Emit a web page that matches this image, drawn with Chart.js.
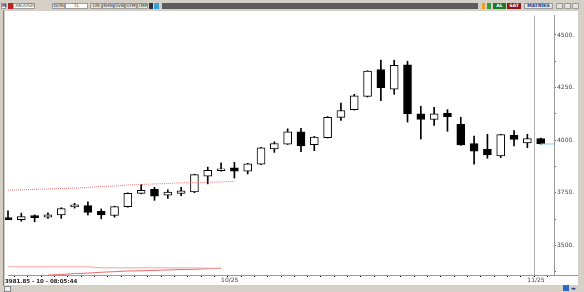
<!DOCTYPE html>
<html>
<head>
<meta charset="utf-8">
<script src="https://cdn.jsdelivr.net/npm/chart.js@4"></script>
<style>
  body { margin: 0; width: 584px; height: 292px; background: #d4d0c8; position: relative; overflow: hidden; font-family: "DejaVu Sans", sans-serif; }
  #wrap { position: absolute; left: 5px; top: 11px; width: 573px; height: 274px; background: #fff; }
  #edge { position: absolute; left: 3px; top: 10px; width: 1px; height: 276px; background: #808080; }
  #axisTail { position: absolute; left: 554px; top: 275px; width: 24px; height: 1px; background: #999; }
  .tb { position: absolute; top: 3px; height: 6px; font-size: 4.5px; line-height: 6px; text-align: center; color: #333; box-sizing: border-box; }
  .btn { background: #e4e2dc; border: 1px solid #9a9a9a; line-height: 4px; }
  .box { background: #fff; border: 1px solid #9a9a9a; line-height: 4px; }
  #status { position: absolute; left: 5px; top: 278px; width: 64px; height: 7px; background: #fff; font-size: 5.5px; font-weight: bold; line-height: 7px; color: #222; white-space: nowrap; }
  .ico { position: absolute; }
</style>
</head>
<body>
<div id="edge"></div>
<div id="wrap"><canvas id="chart" width="573" height="274"></canvas></div>
<div id="axisTail"></div>

<!-- toolbar -->
<div class="tb box" style="left:1px;width:5px;color:#1f3f8f;font-weight:bold;">M</div>
<div class="tb" style="left:8px;width:5px;background:#c02020;"></div>
<div class="tb box" style="left:13px;width:22px;text-align:left;padding-left:1px;">XAUUSD</div>
<div class="tb btn" style="left:52px;width:13px;">GÜN</div>
<div class="tb box" style="left:65px;width:23px;">TL</div>
<div class="tb btn" style="left:90px;width:12px;">LIN</div>
<div class="tb btn" style="left:102px;width:12px;">KHN</div>
<div class="tb btn" style="left:114px;width:11px;">SVB</div>
<div class="tb btn" style="left:125px;width:12px;">SYM</div>
<div class="tb btn" style="left:137px;width:11px;">TMP</div>
<div class="tb" style="left:149px;width:4px;background:#333;"></div>
<div class="tb" style="left:154px;width:5px;background:#3aa0e0;"></div>
<div class="tb" style="left:162px;width:316px;background:#5c5c5c;"></div>
<div class="tb" style="left:482px;width:3px;background:#e8a020;"></div>
<div class="tb" style="left:487px;width:4px;background:#3a9a3a;"></div>
<div class="tb" style="left:493px;width:13px;background:#1c7a24;color:#fff;font-weight:bold;">AL</div>
<div class="tb" style="left:507px;width:14px;background:#8a1a1a;color:#fff;font-weight:bold;">SAT</div>
<div class="tb btn" style="left:524px;width:29px;color:#1f3f8f;font-weight:bold;">MATRİKS</div>
<div class="tb btn" style="left:556px;width:7px;"></div>
<div class="tb btn" style="left:564px;width:7px;"></div>
<div class="tb btn" style="left:572px;width:7px;"></div>

<div id="status">3981.85 - 10 - 08:05:44</div>
<div class="ico" style="left:4px;top:286px;width:5px;height:4px;border:1px solid #888;background:#eee;"></div>
<div class="ico" style="left:563px;top:285px;width:6px;height:6px;background:#2a6ac8;"></div>
<div class="ico" style="left:571px;top:286px;font-size:5px;line-height:5px;color:#1f3f8f;">◂▸</div>

<script>
// ----- Daily candles, XAUUSD -----
const dates = [
  "2025-09-09","2025-09-10","2025-09-11","2025-09-12","2025-09-15","2025-09-16","2025-09-17","2025-09-18",
  "2025-09-19","2025-09-22","2025-09-23","2025-09-24","2025-09-25","2025-09-26","2025-09-29","2025-09-30",
  "2025-10-01","2025-10-02","2025-10-03","2025-10-06","2025-10-07","2025-10-08","2025-10-09","2025-10-10",
  "2025-10-13","2025-10-14","2025-10-15","2025-10-16","2025-10-17","2025-10-20","2025-10-21","2025-10-22",
  "2025-10-23","2025-10-24","2025-10-27","2025-10-28","2025-10-29","2025-10-30","2025-10-31","2025-11-03",
  "2025-11-04"
];
const opens  = [3632,3622,3642,3634,3644,3683,3689,3662,3642,3684,3747,3766,3739,3747,3754,3829,3855,3869,3853,3886,3958,3981,4039,3979,4012,4108,4145,4208,4336,4242,4358,4125,4098,4129,4075,3984,3956,3925,4023,3987,4008];
const highs  = [3664,3653,3645,3654,3679,3700,3707,3673,3686,3750,3789,3776,3764,3776,3838,3872,3892,3895,3890,3966,3992,4054,4056,4018,4112,4176,4218,4330,4380,4380,4375,4161,4156,4145,4109,4019,4028,4028,4045,4028,4010];
const lows   = [3622,3615,3612,3628,3628,3677,3645,3626,3634,3682,3745,3714,3723,3736,3750,3792,3853,3820,3839,3884,3942,3979,3945,3950,4010,4094,4143,4205,4188,4218,4086,4005,4070,4042,3975,3886,3914,3917,3972,3964,3981];
const closes = [3622,3637,3631,3645,3675,3692,3656,3644,3684,3747,3762,3734,3753,3759,3836,3857,3864,3853,3887,3964,3984,4039,3973,4015,4109,4141,4211,4328,4250,4356,4125,4098,4125,4111,3977,3948,3930,4026,4003,4008,3981.85];

// overlay lines
const dottedLine = [3762,3764,3766,3768,3770,3772,3775,3780,3782,3787,3789,3792,3794,3797,3798,3800,3802,3804];
const bandUpper  = [3398,3398,3398,3398,3398,3398,3398,3393,3393,3393,3393,3393,3393,3393,3393,3391,3391];
const bandLower  = [null,null,null,3359,3361,3366,3368,3372,3375,3378,3379,3381,3383,3385,3386,3389,3391];
const lastPrice = 3981.85;

// y axis
const yMin = 3359, yMax = 4592, yStep = 125, yLabelEvery = 250;

// one empty slot after the last candle
const labels = dates.concat([""]);
const lastIdx = dates.length - 1;

const bodies = opens.map((o, i) => [o, closes[i]]);
const wicks = lows.map((l, i) => [l, highs[i]]);
const bodyFill = opens.map((o, i) => closes[i] >= o ? "#ffffff" : "#000000");
const lastLine = labels.map((_, i) => i >= lastIdx ? lastPrice : null);

function monthLabel(i) {
  if (i === 0 || !dates[i]) return "";
  const m = dates[i].slice(5, 7), pm = dates[i - 1].slice(5, 7);
  return m !== pm ? m + "/" + dates[i].slice(2, 4) : "";
}

new Chart(document.getElementById("chart"), {
  type: "bar",
  data: {
    labels,
    datasets: [
      {
        label: "wick", data: wicks, backgroundColor: "#000", barThickness: 1,
        grouped: false, order: 3, clip: false
      },
      {
        label: "body", data: bodies, backgroundColor: bodyFill, borderColor: "#000",
        borderWidth: 1, borderSkipped: false, barThickness: 8, grouped: false, order: 2, clip: false
      },
      {
        type: "line", label: "dotted", data: dottedLine, borderColor: "#f07878",
        borderWidth: 1, borderDash: [1, 1], pointRadius: 0, order: 1
      },
      {
        type: "line", label: "bandUpper", data: bandUpper, borderColor: "#f3a3a3",
        borderWidth: 1, pointRadius: 0, order: 1
      },
      {
        type: "line", label: "bandLower", data: bandLower, borderColor: "#e86a6a",
        borderWidth: 1, pointRadius: 0, order: 1
      },
      {
        type: "line", label: "last", data: lastLine, borderColor: "#7fd6e6",
        borderWidth: 1, pointRadius: 0, order: 0
      }
    ]
  },
  options: {
    responsive: false,
    animation: false,
    layout: { padding: { left: 3, top: 1, right: 0, bottom: 0 } },
    plugins: { legend: { display: false }, tooltip: { enabled: false } },
    scales: {
      x: {
        offset: false,
        afterFit: s => { s.height = 10; },
        border: { color: "#999" },
        grid: {
          color: c => c.index === lastIdx ? "#b0b0b0" : "rgba(0,0,0,0)",
          tickColor: "#000",
          tickLength: 2
        },
        ticks: {
          autoSkip: false, maxRotation: 0, minRotation: 0, align: "start", padding: 0,
          color: "#444", font: { family: "DejaVu Sans", size: 6 },
          callback: (v, i) => monthLabel(i)
        }
      },
      y: {
        position: "right",
        min: yMin, max: yMax,
        afterFit: s => { s.width = 24; },
        border: { color: "#999" },
        grid: { drawOnChartArea: false, tickColor: "#666", tickLength: 2 },
        ticks: {
          stepSize: yStep, includeBounds: false, padding: 1,
          color: "#444", font: { family: "DejaVu Sans", size: 6 },
          callback: v => v % yLabelEvery === 0 ? v + "." : ""
        }
      }
    }
  }
});
</script>
</body>
</html>
